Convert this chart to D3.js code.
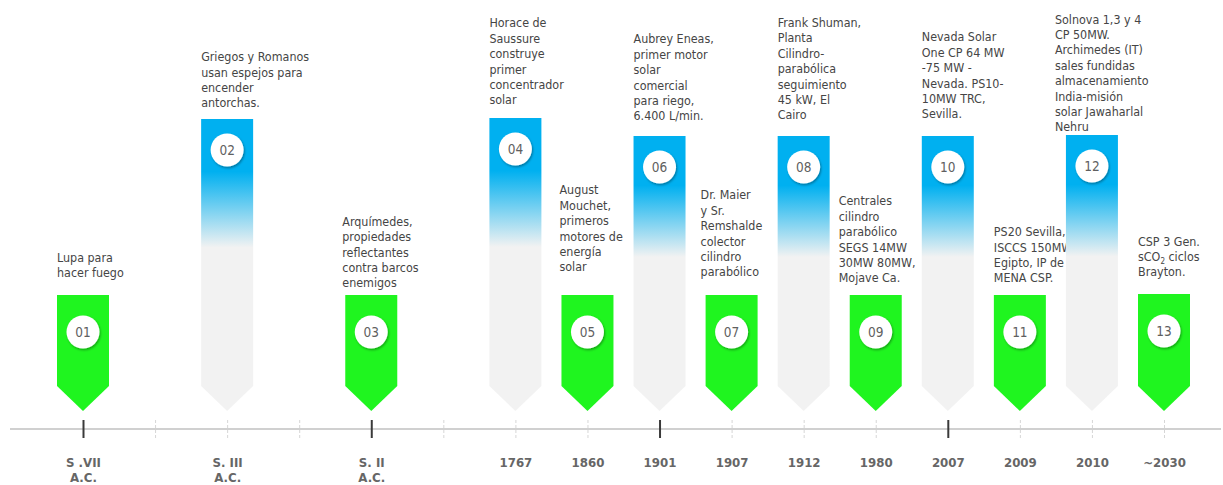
<!DOCTYPE html>
<html>
<head>
<meta charset="utf-8">
<script src="https://cdn.jsdelivr.net/npm/d3@7"></script>
<style>
  body { margin: 0; background: #fff; }
  svg { display: block; }
</style>
</head>
<body>
<div id="chart"></div>
<script>
// periodos del eje (huecos = marcas sin etiqueta)
const slotLabels = [
  ["S .VII", "A.C."], [], ["S. III", "A.C."], [], ["S. II", "A.C."], [],
  ["1767"], ["1860"], ["1901"], ["1907"], ["1912"], ["1980"], ["2007"], ["2009"], ["2010"], ["~2030"]
];
// marcas solidas en el eje
const majorSlots = [0, 4, 8, 12];

// hitos
const eventNums  = ["01","02","03","04","05","06","07","08","09","10","11","12","13"];
const eventSlots = [0, 2, 4, 6, 7, 8, 9, 10, 11, 12, 13, 14, 15];
const eventKinds = ["g","b","g","b","g","b","g","b","g","b","g","b","g"];
const eventTexts = [
  ["Lupa para", "hacer fuego"],
  ["Griegos y Romanos", "usan espejos para", "encender", "antorchas."],
  ["Arquímedes,", "propiedades", "reflectantes", "contra barcos", "enemigos"],
  ["Horace de", "Saussure", "construye", "primer", "concentrador", "solar"],
  ["August", "Mouchet,", "primeros", "motores de", "energía", "solar"],
  ["Aubrey Eneas,", "primer motor", "solar", "comercial", "para riego,", "6.400 L/min."],
  ["Dr. Maier", "y Sr.", "Remshalde", "colector", "cilindro", "parabólico"],
  ["Frank Shuman,", "Planta", "Cilindro-", "parabólica", "seguimiento", "45 kW, El", "Cairo"],
  ["Centrales", "cilindro", "parabólico", "SEGS 14MW", "30MW 80MW,", "Mojave Ca."],
  ["Nevada Solar", "One CP 64 MW", "-75 MW -", "Nevada. PS10-", "10MW TRC,", "Sevilla."],
  ["PS20 Sevilla,", "ISCCS 150MW", "Egipto, IP de", "MENA CSP."],
  ["Solnova 1,3 y 4", "CP 50MW.", "Archimedes (IT)", "sales fundidas", "almacenamiento", "India-misión", "solar Jawaharlal", "Nehru"],
  ["CSP 3 Gen.", "sCO_2 ciclos", "Brayton."]
];

// maquetacion (no son datos)
const barTop  = [295, 119, 295, 118, 295, 136, 295, 136, 295, 136, 295, 135, 294];
const textGap = [22, 16, 12, 18, 28, 20, 23, 21, 17, 22, 17, 8, 22];
const textDx  = [0, 0, -3, 0, -2, 0, -5, 0, -11, 0, 0, -11, 0];

const W = 1223, H = 485;
const axisY = 429, barBottom = 386, tipY = 411, halfW = 26, lineH = 15.4;
const GREEN = "#1ff51f", BLUE = "#00b0f0", GREY = "#f2f2f2";
const textFont = "'DejaVu Sans Condensed', 'DejaVu Sans', sans-serif";

const svg = d3.select("#chart").append("svg")
  .attr("width", W).attr("height", H);

const defs = svg.append("defs");
const grad = defs.append("linearGradient")
  .attr("id", "blueGrad").attr("x1", 0).attr("y1", 0).attr("x2", 0).attr("y2", 1);
grad.append("stop").attr("offset", 0).attr("stop-color", BLUE);
grad.append("stop").attr("offset", 0.18).attr("stop-color", BLUE);
grad.append("stop").attr("offset", 0.44).attr("stop-color", GREY);
grad.append("stop").attr("offset", 1).attr("stop-color", GREY);

const shadow = defs.append("filter").attr("id", "shadow")
  .attr("x", "-50%").attr("y", "-50%").attr("width", "200%").attr("height", "200%");
shadow.append("feDropShadow")
  .attr("dx", 1).attr("dy", 1.5).attr("stdDeviation", 1.3)
  .attr("flood-color", "#000").attr("flood-opacity", 0.35);

const x = d3.scalePoint()
  .domain(d3.range(slotLabels.length))
  .range([83, 1164]);

// ==== Eje ====
svg.append("line")
  .attr("x1", 10).attr("x2", 1221)
  .attr("y1", axisY).attr("y2", axisY)
  .attr("stroke", "#d0d0d0").attr("stroke-width", 2);

const axisG = svg.append("g")
  .attr("transform", `translate(0,${axisY})`)
  .call(d3.axisBottom(x).tickSize(9).tickFormat(""));
axisG.select(".domain").remove();
axisG.selectAll(".tick line")
  .attr("y1", -9).attr("y2", 9)
  .attr("stroke", d => majorSlots.includes(d) ? "#3a3a3a" : "#d6d6d6")
  .attr("stroke-width", d => majorSlots.includes(d) ? 2 : 1)
  .attr("stroke-dasharray", d => majorSlots.includes(d) ? null : "3,2");

axisG.selectAll(".tick").append("text")
  .attr("text-anchor", "middle")
  .attr("fill", "#666")
  .style("font-family", "'DejaVu Sans', sans-serif")
  .style("font-weight", "bold")
  .style("font-size", "11.8px")
  .selectAll("tspan")
  .data(d => slotLabels[d])
  .join("tspan")
    .attr("x", 0)
    .attr("y", (d, i) => 38 + i * 15)
    .text(d => d);

// ==== Hitos ====
const events = eventNums.map((n, i) => ({
  num: n, slot: eventSlots[i], kind: eventKinds[i], lines: eventTexts[i],
  top: barTop[i], gap: textGap[i], dx: textDx[i]
}));

events.forEach(ev => {
  const cx = x(ev.slot);
  const left = cx - halfW;
  const g = svg.append("g");

  // texto
  const lastY = ev.top - ev.gap;
  const firstY = lastY - (ev.lines.length - 1) * lineH;
  const txt = g.append("text")
    .attr("fill", "#454545")
    .style("font-family", textFont)
    .style("font-size", "12.4px");
  ev.lines.forEach((ln, i) => {
    const t = txt.append("tspan")
      .attr("x", left + ev.dx)
      .attr("y", firstY + i * lineH + 4.4);
    if (ln.includes("_")) {
      const [a, rest] = ln.split("_");
      t.append("tspan").text(a);
      t.append("tspan").attr("dy", 3).style("font-size", "8px").text(rest[0]);
      t.append("tspan").attr("dy", -3).text(rest.slice(1));
    } else {
      t.text(ln);
    }
  });

  // marcador
  g.append("path")
    .attr("d", `M${left},${ev.top}H${cx + halfW}V${barBottom}L${cx},${tipY}L${left},${barBottom}Z`)
    .attr("fill", ev.kind === "g" ? GREEN : "url(#blueGrad)");

  const cy = ev.top + (ev.kind === "g" ? 37 : 31);
  g.append("circle")
    .attr("cx", cx).attr("cy", cy).attr("r", 16.5)
    .attr("fill", "#fff")
    .attr("filter", "url(#shadow)");
  g.append("text")
    .attr("x", cx).attr("y", cy)
    .attr("dy", "0.36em")
    .attr("text-anchor", "middle")
    .attr("fill", "#606060")
    .style("font-family", textFont)
    .style("font-size", "13.5px")
    .text(ev.num);
});
</script>
</body>
</html>
